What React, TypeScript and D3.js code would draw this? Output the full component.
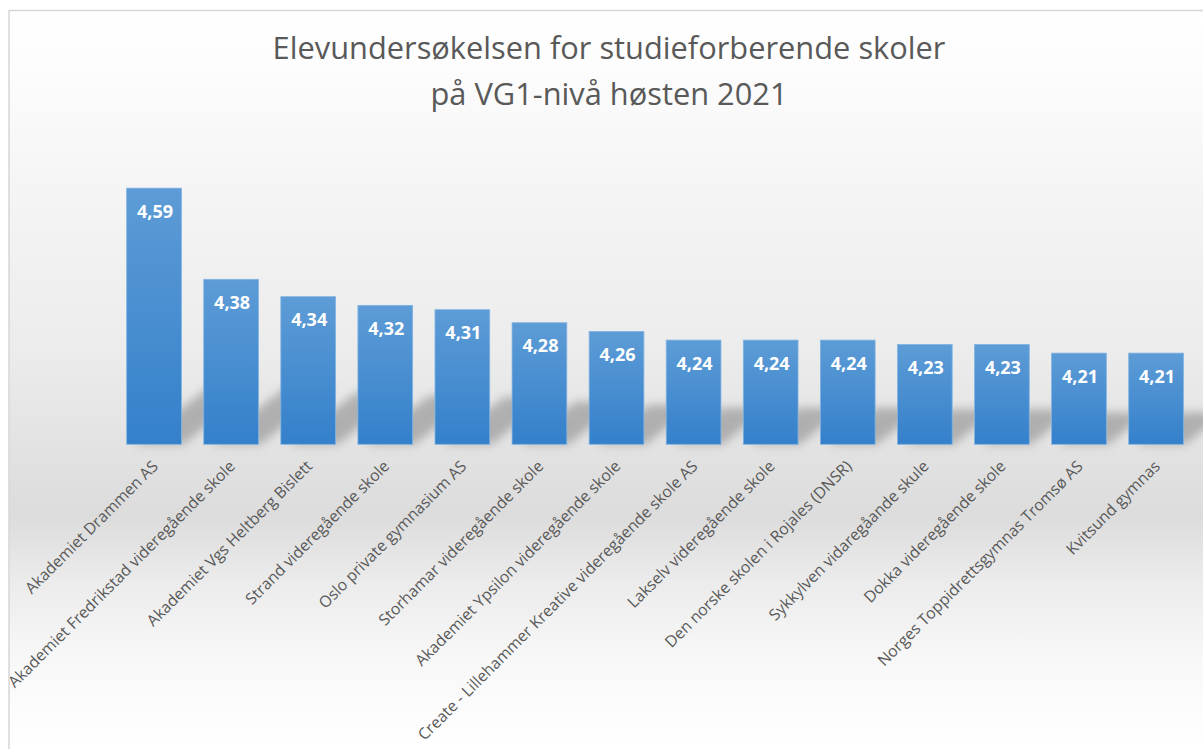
import React from "react";
import * as d3 from "d3";

const categories: string[] = [
  "Akademiet Drammen AS",
  "Akademiet Fredrikstad videregående skole",
  "Akademiet Vgs Heltberg Bislett",
  "Strand videregående skole",
  "Oslo private gymnasium AS",
  "Storhamar videregående skole",
  "Akademiet Ypsilon videregående skole",
  "Create - Lillehammer Kreative videregående skole AS",
  "Lakselv videregående skole",
  "Den norske skolen i Rojales (DNSR)",
  "Sykkylven vidaregåande skule",
  "Dokka videregående skole",
  "Norges Toppidrettsgymnas Tromsø AS",
  "Kvitsund gymnas",
];
const values: number[] = [4.59, 4.38, 4.34, 4.32, 4.31, 4.28, 4.26, 4.24, 4.24, 4.24, 4.23, 4.23, 4.21, 4.21];
const titleLines: string[] = ["Elevundersøkelsen for studieforberende skoler", "på VG1-nivå høsten 2021"];
const yDomain: [number, number] = [4, 4.7];

const W = 1203;
const H = 749;

export default function App() {
  const x = d3.scaleBand<string>().domain(categories).range([115.5, 1194.6]).paddingInner(0.29).paddingOuter(0.145);
  const y = d3.scaleLinear().domain(yDomain).range([444.3, 140.4]);
  const base = y(yDomain[0]);
  const fmt = (v: number) => d3.format(".2f")(v).replace(".", ",");
  const bgStops: [number, string][] = [
    [10, "#ffffff"], [60, "#fdfdfd"], [200, "#f4f4f4"], [350, "#ececec"], [440, "#e3e3e3"],
    [515, "#dcdcdc"], [580, "#ebebeb"], [660, "#f8f8f8"], [749, "#ffffff"],
  ];
  return (
    <svg width={W} height={H} style={{ position: "absolute", left: 0, top: 0, display: "block" }}
      fontFamily="'Open Sans', 'Noto Sans', sans-serif">
      <defs>
        <linearGradient id="bg" gradientUnits="userSpaceOnUse" x1="0" y1="10" x2="0" y2="749">
          {bgStops.map(([yy, c], i) => (
            <stop key={i} offset={(yy - 10) / 739} stopColor={c} />
          ))}
        </linearGradient>
        <linearGradient id="bar" x1="0" y1="0" x2="0" y2="1">
          <stop offset="0" stopColor="#5d9cd6" />
          <stop offset="1" stopColor="#3480cb" />
        </linearGradient>
        <filter id="blur" x="-50%" y="-50%" width="200%" height="200%">
          <feGaussianBlur stdDeviation="5" />
        </filter>
      </defs>
      <rect x={9} y={10.5} width={W} height={H} fill="url(#bg)" stroke="#d6d6d6" strokeWidth={1.5} />
      <g fill="#595959" fontSize={30.8} textAnchor="middle">
        {titleLines.map((t, i) => (
          <text key={i} x={609} y={59 + i * 46}>{t}</text>
        ))}
      </g>
      <g filter="url(#blur)" opacity={0.5}>
        {categories.map((c, i) => {
          const x0 = x(c)!;
          const bw = x.bandwidth();
          const h = base - y(values[i]);
          const dy = Math.min(58, 0.35 * h);
          const dx = dy * 1.3;
          const pts = [
            [x0 + 8, base], [x0 + bw + 2, base], [x0 + bw + dx, base - dy], [x0 + dx + 8, base - dy],
          ];
          return <polygon key={c} points={pts.map((p) => p.join(",")).join(" ")} fill="#7a7a7a" />;
        })}
      </g>
      <g>
        {categories.map((c, i) => (
          <rect key={c} x={x(c)!} y={y(values[i])} width={x.bandwidth()} height={base - y(values[i])}
            fill="url(#bar)" stroke="#80b3e2" strokeWidth={0.8} />
        ))}
      </g>
      <g fill="#ffffff" fontSize={18} fontWeight={700} textAnchor="middle">
        {categories.map((c, i) => (
          <text key={c} x={x(c)! + x.bandwidth() / 2 + 1} y={y(values[i]) + 29.5}>{fmt(values[i])}</text>
        ))}
      </g>
      <g fill="#595959" fontSize={15.8} textAnchor="end">
        {categories.map((c) => {
          const ax = x(c)! + x.bandwidth() / 2 + 5;
          const ay = base + 23;
          return (
            <text key={c} transform={`translate(${ax},${ay}) rotate(-45)`}>{c}</text>
          );
        })}
      </g>
    </svg>
  );
}
